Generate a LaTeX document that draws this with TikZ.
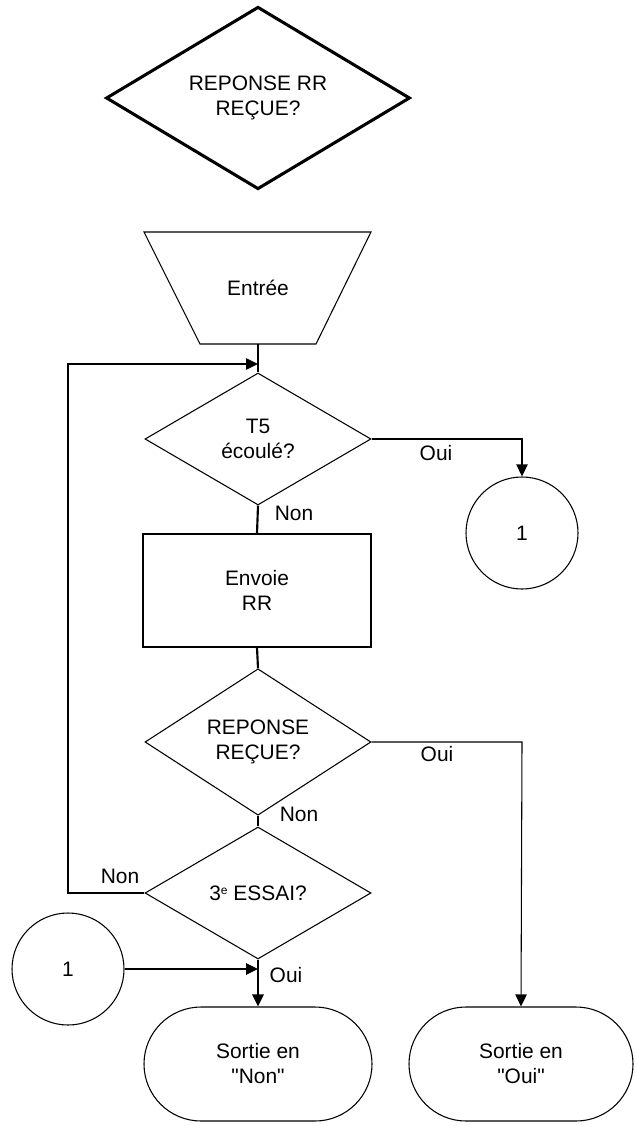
\documentclass[tikz,border=0pt]{standalone}
\usepackage{fontspec}
\setmainfont{Liberation Sans}[Ligatures=TeXOff]
\usetikzlibrary{shapes.geometric,shapes.misc,arrows.meta}
\begin{document}
\begin{tikzpicture}[x=0.75pt,y=-0.75pt,
  font=\fontsize{15.7}{18.75}\selectfont,
  shp/.style={draw=black,line width=0.8pt,inner sep=0pt,align=center},
  dia/.style={shp,diamond,minimum width=169.5pt,minimum height=99pt},
  circ/.style={shp,circle,minimum size=84pt},
  term/.style={shp,rounded rectangle,minimum height=85.5pt},
  thin/.style={line width=0.8pt},
  thick/.style={line width=1.6pt},
  arr/.style={-{Triangle[length=9pt,width=8.5pt]}},
  lbl/.style={anchor=base,inner sep=0pt}]
\useasboundingbox (0,0) rectangle (636,1126);
% top diamond
\node[shp,diamond,line width=2.3pt,minimum width=228pt,minimum height=133.5pt] (top) at (258,98) {REPONSE RR\\REÇUE?};
% trapezoid
\draw[thin] (144,232) -- (371,232) -- (316,344) -- (200,344) -- cycle;
\node[inner sep=0pt] (entree) at (258,288) {Entrée};
\coordinate (entreeb) at (258,344);
% T5
\node[dia] (t5) at (258,439) {T5\\écoulé?};
\node[circ] (c1) at (522,533) {1};
\node[shp,rectangle,minimum width=171pt,minimum height=84.75pt] (env) at (257,590.5) {Envoie\\RR};
\node[dia] (rep) at (258,742) {REPONSE\\REÇUE?};
\node[dia] (ess) at (258,893) {3{\fontsize{9}{9}\selectfont\raisebox{4pt}{e}} ESSAI?};
\node[circ] (c2) at (68,969) {1};
\node[term,minimum width=171pt] (snon) at (258,1064) {Sortie en\\"Non"};
\node[term,minimum width=168pt] (soui) at (521,1064) {Sortie en\\"Oui"};
\coordinate (j1) at (258,364);
\coordinate (j2) at (258,969);
% connectors
\draw[thick] (entreeb) -- (t5.north);
\draw[line width=1.1pt,arr] (ess.west) -- (68,893) -- (68,364) -- (j1);
\draw[thin,arr] (t5.east) -- (522,439) -- (c1.north);
\draw[thick] (t5.south) -- (env.north);
\draw[thick] (env.south) -- (rep.north);
\draw[thin,arr] (rep.east) -- (522,742) -- (soui.north);
\draw[thick] (rep.south) -- (ess.north);
\draw[thick,arr] (ess.south) -- (snon.north);
\draw[thick,arr] (c2.east) -- (j2);
% labels
\node[lbl] (l1) at (436,460) {Oui};
\node[lbl] (l2) at (294,520) {Non};
\node[lbl] (l3) at (437,761) {Oui};
\node[lbl] (l4) at (299,821) {Non};
\node[lbl] (l5) at (120,883) {Non};
\node[lbl] (l6) at (286,982) {Oui};
\end{tikzpicture}
\end{document}
